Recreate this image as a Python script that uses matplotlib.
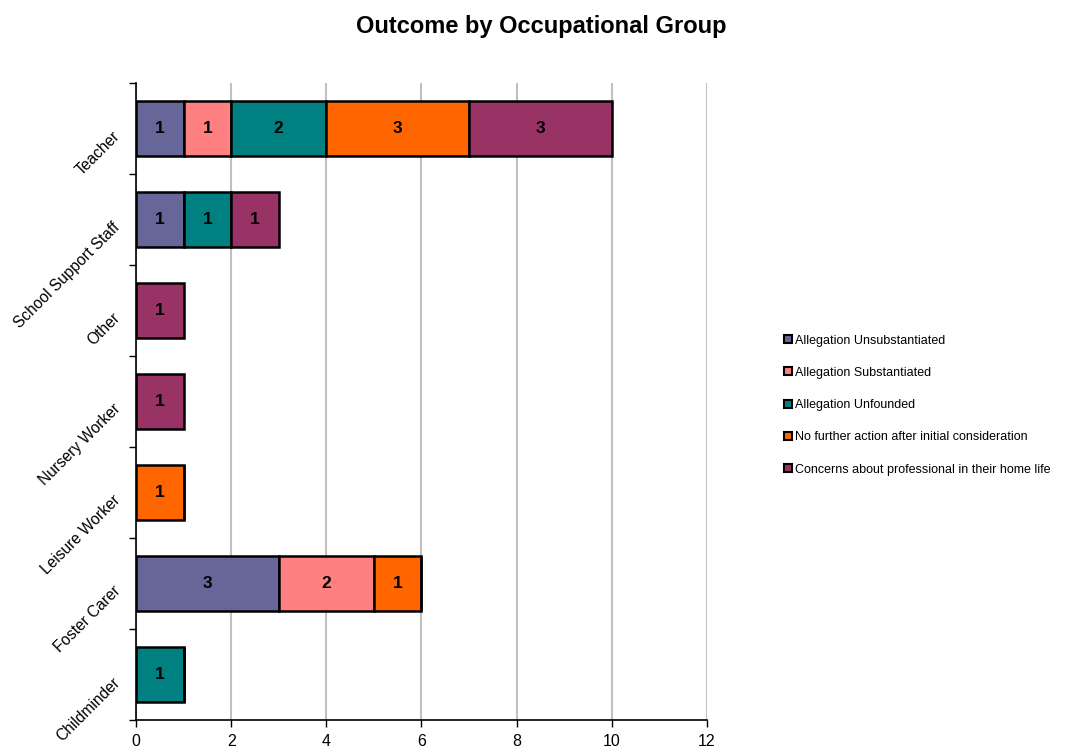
import matplotlib
matplotlib.use("Agg")
import matplotlib.pyplot as plt
import numpy as np
from matplotlib.lines import Line2D

plt.rcParams["font.family"] = ["Liberation Sans", "DejaVu Sans"]

categories = ["Childminder", "Foster Carer", "Leisure Worker", "Nursery Worker",
              "Other", "School Support Staff", "Teacher"]
series_names = ["Allegation Unsubstantiated", "Allegation Substantiated",
                "Allegation Unfounded", "No further action after initial consideration",
                "Concerns about professional in their home life"]
unsubstantiated = [0, 3, 0, 0, 0, 1, 1]
substantiated = [0, 2, 0, 0, 0, 0, 1]
unfounded = [1, 0, 0, 0, 0, 1, 2]
no_further_action = [0, 1, 1, 0, 0, 0, 3]
home_life = [0, 0, 0, 1, 1, 1, 3]
colors = ["#666699", "#FF8080", "#008080", "#FF6600", "#993366"]

series = [unsubstantiated, substantiated, unfounded, no_further_action, home_life]

fig = plt.figure(figsize=(10.73, 7.49), dpi=100)
ax = fig.add_axes([136 / 1073, 1 - 720 / 749, (707 - 136) / 1073, (720 - 83) / 749])

y = np.arange(len(categories))
left = np.zeros(len(categories))
for vals, col in zip(series, colors):
    vals = np.array(vals, dtype=float)
    bars = ax.barh(y, vals, left=left, height=0.6, color=col,
                   edgecolor="black", linewidth=1.8, zorder=3)
    for b, v in zip(bars, vals):
        if v > 0:
            ax.text(b.get_x() + b.get_width() / 2, b.get_y() + b.get_height() / 2,
                    f"{int(v)}", ha="center", va="center", fontsize=12.5,
                    fontweight="bold", color="black", zorder=4)
    left += vals

ax.set_xlim(0, 12)
ax.set_ylim(-0.5, len(categories) - 0.5)
ax.set_xticks(range(0, 13, 2))
ax.tick_params(axis="x", labelsize=11.5, direction="out", length=5, width=1, pad=5)
ax.xaxis.grid(True, color="#c0c0c0", linewidth=1.5, zorder=0)
ax.set_axisbelow(True)

# category ticks sit at the boundaries between bars
ax.set_yticks(np.arange(-0.5, len(categories), 1.0))
ax.set_yticklabels([])
ax.set_yticks(y, minor=True)
ax.set_yticklabels(categories, minor=True, rotation=45, ha="right",
                   va="top", rotation_mode="anchor", fontsize=11.2)
ax.tick_params(axis="y", which="minor", length=0, pad=17)
ax.tick_params(axis="y", which="major", direction="out", length=5, width=1)

for s in ["top", "right"]:
    ax.spines[s].set_visible(False)
for s in ["left", "bottom"]:
    ax.spines[s].set_linewidth(1.2)

fig.text(541 / 1073, 1 - 27 / 749, "Outcome by Occupational Group", ha="center",
         va="center", fontsize=17, fontweight="bold")

handles = [Line2D([], [], marker="s", linestyle="none", markersize=6,
                  markerfacecolor=c, markeredgecolor="black", markeredgewidth=1.5)
           for c in colors]
fig.legend(handles, series_names, loc="center left",
           bbox_to_anchor=(779 / 1073, 1 - 405 / 749), frameon=False,
           fontsize=9, handlelength=0.6, handletextpad=0.3, labelspacing=1.62,
           borderaxespad=0)

fig.savefig("out.png", dpi=100)
